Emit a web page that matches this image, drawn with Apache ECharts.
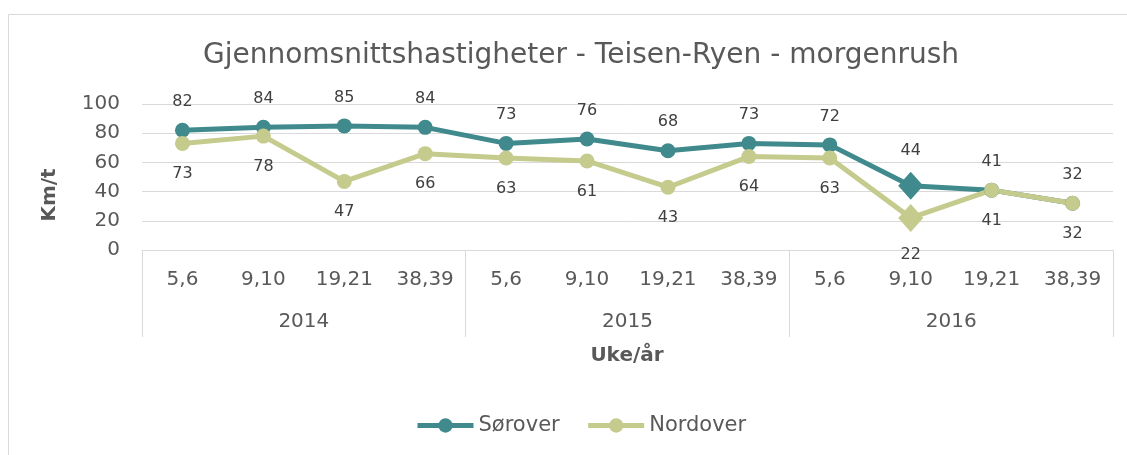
<!DOCTYPE html>
<html>
<head>
<meta charset="utf-8">
<script src="https://cdn.jsdelivr.net/npm/echarts@6/dist/echarts.min.js"></script>
<style>
html,body{margin:0;padding:0;background:#fff;}
#c{width:1127px;height:455px;}
</style>
</head>
<body>
<div id="c"></div>
<script>
const weeks = ['5,6','9,10','19,21','38,39','5,6','9,10','19,21','38,39','5,6','9,10','19,21','38,39'];
const years = ['2014','2015','2016'];
const sorover = [82,84,85,84,73,76,68,73,72,44,41,32];
const nordover = [73,78,47,66,63,61,43,64,63,22,41,32];
const yTicks = [0,20,40,60,80,100];
const diamondIndex = 9;

const teal = '#408A8D';
const olive = '#C5CB8D';
const FONT = '"DejaVu Sans", "Liberation Sans", Arial, sans-serif';

function toData(arr){
  return arr.map((v,i)=> i===diamondIndex ? {value:v, symbol:'diamond', symbolSize:[25,28]} : v);
}

const chart = echarts.init(document.getElementById('c'));
chart.setOption({
  animation:false,
  backgroundColor:'#fff',
  textStyle:{fontFamily:FONT},
  title:{
    text:'Gjennomsnittshastigheter - Teisen-Ryen - morgenrush',
    left:576, textAlign:'center', top:37,
    textStyle:{fontFamily:FONT, fontSize:28, fontWeight:'normal', color:'#595959'}
  },
  graphic:[
    {type:'rect', shape:{x:8.5,y:14.5,width:1130,height:500}, style:{fill:'none', stroke:'#d9d9d9', lineWidth:1}, silent:true},
    {type:'text', x:627, y:356, style:{text:'Uke/år', fontFamily:FONT, fontSize:20, fontWeight:'bold', fill:'#595959', align:'center', verticalAlign:'middle'}},
    {type:'text', x:50, y:195, rotation:Math.PI/2, style:{text:'Km/t', fontFamily:FONT, fontSize:20, fontWeight:'bold', fill:'#595959', align:'center', verticalAlign:'middle'}}
  ],
  legend:{
    top:415, left:415, padding:0, itemGap:26, itemWidth:56, itemHeight:18,
    lineStyle:{width:5},
    textStyle:{fontFamily:FONT, fontSize:21, color:'#595959'},
    data:['Sørover','Nordover']
  },
  grid:{left:142, right:14, top:104, bottom:205, containLabel:false},
  xAxis:[
    {type:'category', data:weeks, position:'bottom', boundaryGap:true,
     axisLine:{lineStyle:{color:'#d9d9d9', width:1}},
     axisTick:{show:false},
     axisLabel:{fontFamily:FONT, fontSize:20, color:'#595959', margin:20, interval:0}},
    {type:'category', data:years, position:'bottom', boundaryGap:true,
     axisLine:{show:false},
     axisTick:{show:true, length:87, lineStyle:{color:'#d9d9d9', width:1}},
     axisLabel:{fontFamily:FONT, fontSize:20, color:'#595959', margin:62, interval:0}}
  ],
  yAxis:{type:'value', min:yTicks[0], max:yTicks[yTicks.length-1], interval:20,
    axisLine:{show:false}, axisTick:{show:false},
    axisLabel:{fontFamily:FONT, fontSize:20, color:'#595959', margin:22},
    splitLine:{lineStyle:{color:'#d9d9d9', width:1}}
  },
  series:[
    {name:'Sørover', type:'line', data:toData(sorover), xAxisIndex:0,
     symbol:'circle', symbolSize:15, color:teal,
     lineStyle:{width:5, color:teal}, itemStyle:{color:teal},
     label:{show:true, position:'top', distance:13, fontFamily:FONT, fontSize:16, color:'#404040'}},
    {name:'Nordover', type:'line', data:toData(nordover), xAxisIndex:0,
     symbol:'circle', symbolSize:15, color:olive,
     lineStyle:{width:5, color:olive}, itemStyle:{color:olive},
     label:{show:true, position:'bottom', distance:15, fontFamily:FONT, fontSize:16, color:'#404040'}}
  ]
});
</script>
</body>
</html>
